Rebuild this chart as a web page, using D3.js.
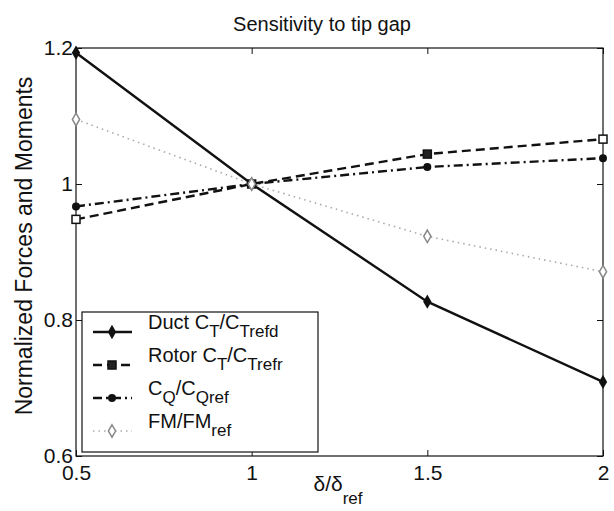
<!DOCTYPE html>
<html>
<head>
<meta charset="utf-8">
<script src="https://cdn.jsdelivr.net/npm/d3@7"></script>
<style>
  body { margin: 0; background: #fff; }
  svg { font-family: "Liberation Sans", Arial, sans-serif; }
</style>
</head>
<body>
<svg id="chart" width="614" height="511"></svg>
<script>
// values
const ratios = [0.5, 1, 1.5, 2];
const ductCT = [1.193, 1.0, 0.827, 0.709];
const rotorCT = [0.948, 1.0, 1.044, 1.066];
const cqRatio = [0.967, 1.0, 1.025, 1.038];
const fmRatio = [1.095, 1.0, 0.923, 0.871];
const xTicks = [0.5, 1, 1.5, 2];
const yTicks = [0.6, 0.8, 1, 1.2];

const series = [
  { name: "duct", main: "Duct C", sub1: "T", mid: "/C", sub2: "Trefd", values: ductCT },
  { name: "rotor", main: "Rotor C", sub1: "T", mid: "/C", sub2: "Trefr", values: rotorCT },
  { name: "cq", main: "C", sub1: "Q", mid: "/C", sub2: "Qref", values: cqRatio },
  { name: "fm", main: "FM/FM", sub1: "ref", mid: "", sub2: "", values: fmRatio }
];

const styles = {
  duct: { stroke: "#111", width: 2.4, dash: null },
  rotor: { stroke: "#111", width: 2.4, dash: "9,5" },
  cq: { stroke: "#111", width: 2.4, dash: "9,4,2,4" },
  fm: { stroke: "#aaa", width: 1.6, dash: "1.5,4" }
};

const margin = { top: 48, right: 11, bottom: 55, left: 76 };
const width = 614 - margin.left - margin.right,
      height = 511 - margin.top - margin.bottom;

const svg = d3.select("#chart");
const g = svg.append("g").attr("transform", `translate(${margin.left},${margin.top})`);

const x = d3.scaleLinear().domain([0.5, 2]).range([0, width]);
const y = d3.scaleLinear().domain([0.6, 1.2]).range([height, 0]);

// frame
g.append("rect").attr("width", width).attr("height", height)
  .attr("fill", "none").attr("stroke", "#111").attr("stroke-width", 1.2);

// ticks (inward, both sides)
const tickLen = 6;
g.append("g").attr("transform", `translate(0,${height})`)
  .call(d3.axisBottom(x).tickValues(xTicks).tickSize(-tickLen).tickPadding(9)
    .tickFormat(d => d))
  .call(a => a.select(".domain").remove())
  .call(a => a.selectAll("text").attr("font-size", 21).attr("fill", "#111").attr("font-family", null));
g.append("g")
  .call(d3.axisTop(x).tickValues(xTicks).tickSize(-tickLen).tickFormat(""))
  .call(a => a.select(".domain").remove());
g.append("g")
  .call(d3.axisLeft(y).tickValues(yTicks).tickSize(-tickLen).tickPadding(3)
    .tickFormat(d => d))
  .call(a => a.select(".domain").remove())
  .call(a => a.selectAll("text").attr("font-size", 21).attr("fill", "#111").attr("font-family", null));
g.append("g").attr("transform", `translate(${width},0)`)
  .call(d3.axisRight(y).tickValues(yTicks).tickSize(-tickLen).tickFormat(""))
  .call(a => a.select(".domain").remove());
g.selectAll(".tick line").attr("stroke", "#111");

// lines
const line = d3.line().x((d, i) => x(ratios[i])).y(d => y(d));
series.forEach(s => {
  const st = styles[s.name];
  g.append("path").datum(s.values)
    .attr("d", line)
    .attr("fill", "none")
    .attr("stroke", st.stroke)
    .attr("stroke-width", st.width)
    .attr("stroke-dasharray", st.dash);
});

// markers
function drawMarker(sel, name, cx, cy, open) {
  if (name === "duct") {
    sel.append("path").attr("d", d3.symbol(d3.symbolDiamond, 60)())
      .attr("transform", `translate(${cx},${cy})`).attr("fill", "#111");
  } else if (name === "rotor") {
    sel.append("rect").attr("x", cx - 4).attr("y", cy - 4).attr("width", 8).attr("height", 8)
      .attr("fill", open ? "#fff" : "#222").attr("stroke", "#111").attr("stroke-width", 1.5);
  } else if (name === "cq") {
    sel.append("circle").attr("cx", cx).attr("cy", cy).attr("r", 4).attr("fill", "#111");
  } else {
    sel.append("path").attr("d", d3.symbol(d3.symbolDiamond, 45)())
      .attr("transform", `translate(${cx},${cy})`)
      .attr("fill", "#fff").attr("stroke", "#888").attr("stroke-width", 1.5);
  }
}
series.forEach(s => {
  s.values.forEach((v, i) =>
    drawMarker(g, s.name, x(ratios[i]), y(v), i === 0 || i === ratios.length - 1));
});

// legend
const lg = g.append("g").attr("transform", "translate(6,264)");
lg.append("rect").attr("width", 236).attr("height", 140)
  .attr("fill", "#fff").attr("stroke", "#111").attr("stroke-width", 1.2);
series.forEach((s, i) => {
  const ly = 20 + i * 33;
  const st = styles[s.name];
  lg.append("line").attr("x1", 11).attr("x2", 50).attr("y1", ly).attr("y2", ly)
    .attr("stroke", st.stroke).attr("stroke-width", st.width).attr("stroke-dasharray", st.dash);
  drawMarker(lg, s.name, 30, ly, false);
  const t = lg.append("text").attr("x", 66).attr("y", ly - 3)
    .attr("font-size", 20).attr("fill", "#111");
  t.append("tspan").text(s.main);
  t.append("tspan").attr("dy", 8).attr("font-size", 17).text(s.sub1);
  if (s.mid) {
    t.append("tspan").attr("dy", -8).text(s.mid);
    t.append("tspan").attr("dy", 8).attr("font-size", 17).text(s.sub2);
  }
});

// title and axis labels
svg.append("text").attr("x", 322).attr("y", 31).attr("text-anchor", "middle")
  .attr("font-size", 20).attr("fill", "#111").text("Sensitivity to tip gap");

const xl = svg.append("text").attr("x", 338).attr("y", 491).attr("text-anchor", "middle")
  .attr("font-size", 21).attr("fill", "#111");
xl.append("tspan").text("δ/δ");
xl.append("tspan").attr("dy", 13).attr("font-size", 17).text("ref");

svg.append("text").attr("transform", "translate(32,246) rotate(-90)")
  .attr("text-anchor", "middle").attr("font-size", 23).attr("fill", "#111")
  .text("Normalized Forces and Moments");
</script>
</body>
</html>
